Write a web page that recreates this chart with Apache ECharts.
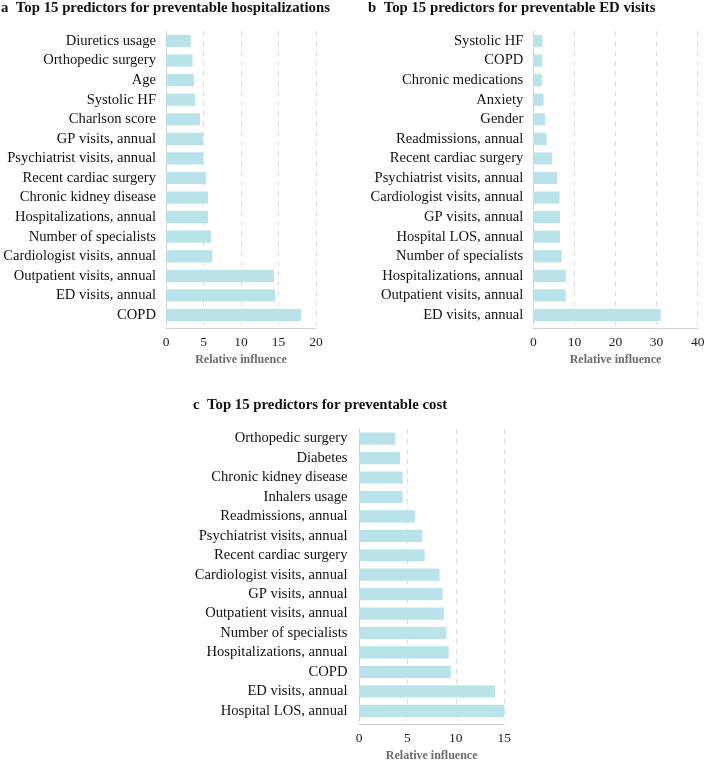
<!DOCTYPE html>
<html>
<head>
<meta charset="utf-8">
<script src="https://cdn.jsdelivr.net/npm/echarts@6/dist/echarts.min.js"></script>
<style>html,body{margin:0;padding:0;background:#fff;}#c{width:709px;height:763px;}</style>
</head>
<body>
<div id="c"></div>
<script>
// Panel a: preventable hospitalizations (top to bottom)
const catsA = ["Diuretics usage","Orthopedic surgery","Age","Systolic HF","Charlson score","GP visits, annual","Psychiatrist visits, annual","Recent cardiac surgery","Chronic kidney disease","Hospitalizations, annual","Number of specialists","Cardiologist visits, annual","Outpatient visits, annual","ED visits, annual","COPD"];
const valsA = [3.3,3.55,3.73,3.87,4.53,4.93,4.93,5.33,5.6,5.6,6.0,6.18,14.4,14.58,18.04];
const ticksA = {min:0,max:20,interval:5};

// Panel b: preventable ED visits
const catsB = ["Systolic HF","COPD","Chronic medications","Anxiety","Gender","Readmissions, annual","Recent cardiac surgery","Psychiatrist visits, annual","Cardiologist visits, annual","GP visits, annual","Hospital LOS, annual","Number of specialists","Hospitalizations, annual","Outpatient visits, annual","ED visits, annual"];
const valsB = [2.2,2.2,2.15,2.5,2.85,3.25,4.6,5.77,6.4,6.5,6.5,6.9,7.9,7.9,31.0];
const ticksB = {min:0,max:40,interval:10};

// Panel c: preventable cost
const catsC = ["Orthopedic surgery","Diabetes","Chronic kidney disease","Inhalers usage","Readmissions, annual","Psychiatrist visits, annual","Recent cardiac surgery","Cardiologist visits, annual","GP visits, annual","Outpatient visits, annual","Number of specialists","Hospitalizations, annual","COPD","ED visits, annual","Hospital LOS, annual"];
const valsC = [3.75,4.23,4.51,4.51,5.78,6.53,6.78,8.33,8.64,8.77,9.01,9.26,9.49,14.07,15.0];
const ticksC = {min:0,max:15,interval:5};

const titles = ["a  Top 15 predictors for preventable hospitalizations","b  Top 15 predictors for preventable ED visits","c  Top 15 predictors for preventable cost"];
const axisName = "Relative influence";

const SERIF = "'Liberation Serif','Times New Roman',serif";
const barColor = "#bae3e9";

const chart = echarts.init(document.getElementById('c'), null, {renderer:'canvas'});

const grids = [
  {left:166, top:31.2, width:150, height:293.6},
  {left:533.3, top:31.2, width:164.4, height:293.6},
  {left:359, top:428.9, width:145.3, height:293.6}
];
const cats = [catsA, catsB, catsC];
const vals = [valsA, valsB, valsC];
const ticks = [ticksA, ticksB, ticksC];
const labelMargins = [10, 10, 11.5];

const option = {
  animation:false,
  backgroundColor:'#fff',
  title: [
    {text:titles[0], left:1, top:1},
    {text:titles[1], left:368, top:1},
    {text:titles[2], left:193, top:398}
  ].map(t => Object.assign(t, {padding:0, textStyle:{fontFamily:SERIF, fontWeight:'bold', fontSize:14.8, color:'#111'}})),
  grid: grids.map(g => Object.assign({containLabel:false}, g)),
  xAxis: grids.map((g,i) => ({
    type:'value', gridIndex:i, min:ticks[i].min, max:ticks[i].max, interval:ticks[i].interval,
    offset:3.5,
    name:axisName, nameLocation:'middle', nameGap:26,
    nameTextStyle:{fontFamily:SERIF, fontWeight:'bold', fontSize:12, color:'#6b6b6b'},
    axisLine:{show:true, lineStyle:{color:'#d0d0d0', width:1}},
    axisTick:{show:false},
    axisLabel:{fontFamily:SERIF, fontSize:13.5, color:'#222', margin:7},
    splitLine:{show:true, lineStyle:{color:'#dcdcdc', type:[5,5], width:1}}
  })),
  yAxis: grids.map((g,i) => ({
    type:'category', gridIndex:i, data:cats[i], inverse:true,
    axisLine:{show:true, lineStyle:{color:'#d0d0d0', width:1}},
    axisTick:{show:false},
    axisLabel:{interval:0, fontFamily:SERIF, fontSize:14.6, color:'#111', margin:labelMargins[i]},
    splitLine:{show:false}
  })),
  series: grids.map((g,i) => ({
    type:'bar', xAxisIndex:i, yAxisIndex:i, data:vals[i], barWidth:12.2,
    itemStyle:{color:barColor}, silent:true, clip:false
  }))
};
chart.setOption(option);
</script>
</body>
</html>
